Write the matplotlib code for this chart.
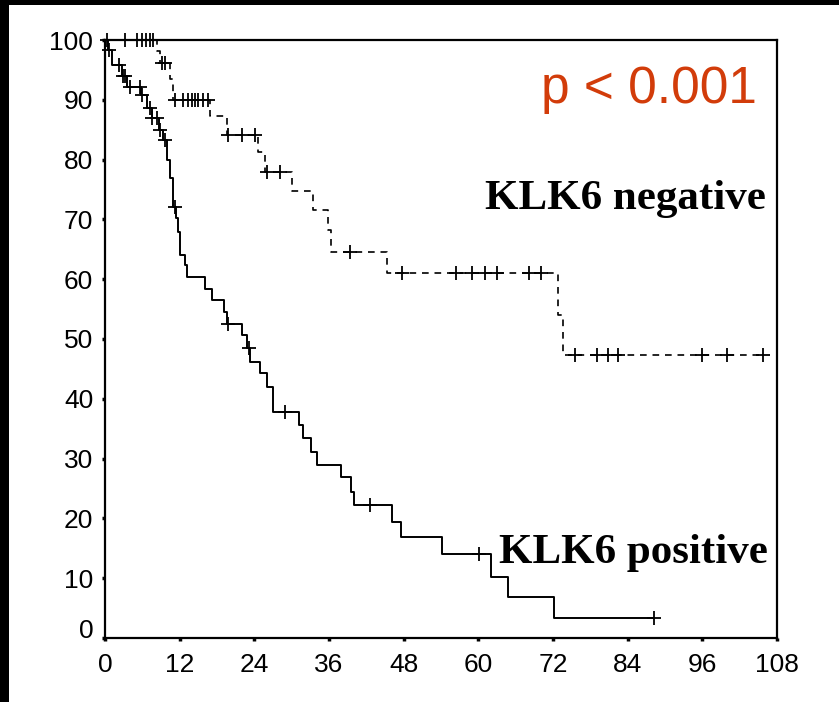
import numpy as np
import matplotlib
matplotlib.use("Agg")
import matplotlib.pyplot as plt
import matplotlib.transforms as mtransforms
from matplotlib.patches import Rectangle

# KLK6 positive (solid): event times (months) and survival (%) after each step
pos_times = [0, 0.5, 1.1, 2.7, 3.6, 5.8, 6.8, 7.5, 8.6, 9.3, 10.0, 10.5, 10.9,
             11.4, 11.7, 12.0, 12.8, 13.1, 16.1, 17.2, 19.1, 19.6, 22.0, 22.8,
             23.3, 24.9, 26.0, 27.0, 31.2, 31.9, 33.1, 34.1, 37.9, 39.6, 40.0,
             46.1, 47.5, 54.2, 62.1, 64.8, 72.2]
pos_surv = [100, 98.3, 95.8, 94.0, 92.1, 90.8, 88.6, 87.0, 85.0, 83.3, 80.0, 77.0,
            72.1, 70.2, 67.9, 64.0, 62.4, 60.4, 58.4, 56.5, 54.5, 52.5, 50.7, 48.5,
            46.2, 44.3, 42.0, 37.8, 35.6, 33.4, 31.1, 28.9, 26.9, 24.4, 22.2,
            19.4, 16.9, 14.0, 10.2, 6.9, 3.3]
pos_censor = [0.6, 2.25, 2.9, 3.2, 4.0, 5.6, 5.9, 7.2, 7.6, 8.4, 8.8, 9.6, 11.25,
              19.8, 23.1, 28.9, 42.6, 60.1, 88.2]

# KLK6 negative (dashed)
neg_times = [0, 8.3, 8.9, 10.4, 10.9, 16.9, 19.6, 24.6, 25.7, 30.1, 33.4, 35.8,
             36.3, 45.3, 72.8, 73.6]
neg_surv = [100, 98.1, 96.2, 93.5, 90.0, 87.3, 84.1, 81.3, 78.0, 74.8, 71.6, 68.2,
            64.5, 61.0, 54.0, 47.3]
neg_censor = [0.3, 3.2, 5.1, 5.9, 6.6, 7.2, 7.7, 9.2, 9.7, 11.2, 12.5, 13.3, 14.0,
              14.5, 15.0, 15.7, 16.6, 19.8, 22.0, 24.1, 26.0, 28.1, 39.4, 47.7,
              56.4, 59.0, 61.1, 63.0, 68.2, 70.1, 75.5, 79.0, 80.8, 82.5, 96.0,
              100.0, 105.7]

x_ticks = [0, 12, 24, 36, 48, 60, 72, 84, 96, 108]
y_ticks = [0, 10, 20, 30, 40, 50, 60, 70, 80, 90, 100]

p_text = "p < 0.001"
neg_label = "KLK6 negative"
pos_label = "KLK6 positive"


def surv_at(times, surv, t):
    idx = np.searchsorted(times, t, side="right") - 1
    return np.asarray(surv)[idx]


def draw_curve(ax, times, surv, censor, **kw):
    t = list(times) + [max(censor)]
    s = list(surv) + [surv[-1]]
    ax.step(t, s, where="post", color="black", **kw)
    cy = surv_at(np.asarray(times), surv, np.asarray(censor))
    ax.plot(censor, cy, linestyle="none", marker="+", color="black",
            markersize=10, markeredgewidth=1.3, clip_on=False, zorder=3)


fig = plt.figure(figsize=(8.39, 7.02), dpi=100)
fig.patch.set_facecolor("white")
ax = fig.add_axes([105 / 839, 1 - 638 / 702, 672 / 839, 598 / 702])

draw_curve(ax, pos_times, pos_surv, pos_censor, linewidth=1.4)
draw_curve(ax, neg_times, neg_surv, neg_censor, linewidth=1.2, dashes=(4, 3.5))

ax.set_xlim(0, 108)
ax.set_ylim(0, 100)
ax.set_xticks(x_ticks)
ax.set_yticks(y_ticks)
ax.tick_params(direction="out", length=2.5, width=2.5, labelsize=19)
ax.tick_params(axis="x", pad=8)
ax.tick_params(axis="y", pad=6)
for lab in ax.get_xticklabels() + ax.get_yticklabels():
    lab.set_family("Liberation Sans")
# the "0" on the y axis sits a little above its tick in the original
ylabs = ax.get_yticklabels()
ylabs[0].set_transform(ylabs[0].get_transform() +
                       mtransforms.ScaledTranslation(0, 10 / 100, fig.dpi_scale_trans))
for sp in ax.spines.values():
    sp.set_linewidth(1.6)

ax.text(0.970, 0.895, p_text, transform=ax.transAxes, ha="right", va="baseline",
        fontsize=37, color="#D23C0A", family="Liberation Sans")
ax.text(0.983, 0.718, neg_label, transform=ax.transAxes, ha="right", va="baseline",
        fontsize=31, fontweight="bold", family="Liberation Serif")
ax.text(0.987, 0.125, pos_label, transform=ax.transAxes, ha="right", va="baseline",
        fontsize=31, fontweight="bold", family="Liberation Serif")

# black strips along the top and left edges of the original picture
fig.patches.append(Rectangle((0, 1 - 5 / 702), 1, 5 / 702, transform=fig.transFigure,
                             facecolor="black", edgecolor="none"))
fig.patches.append(Rectangle((0, 0), 9 / 839, 1, transform=fig.transFigure,
                             facecolor="black", edgecolor="none"))

fig.savefig("out.png", dpi=100)
